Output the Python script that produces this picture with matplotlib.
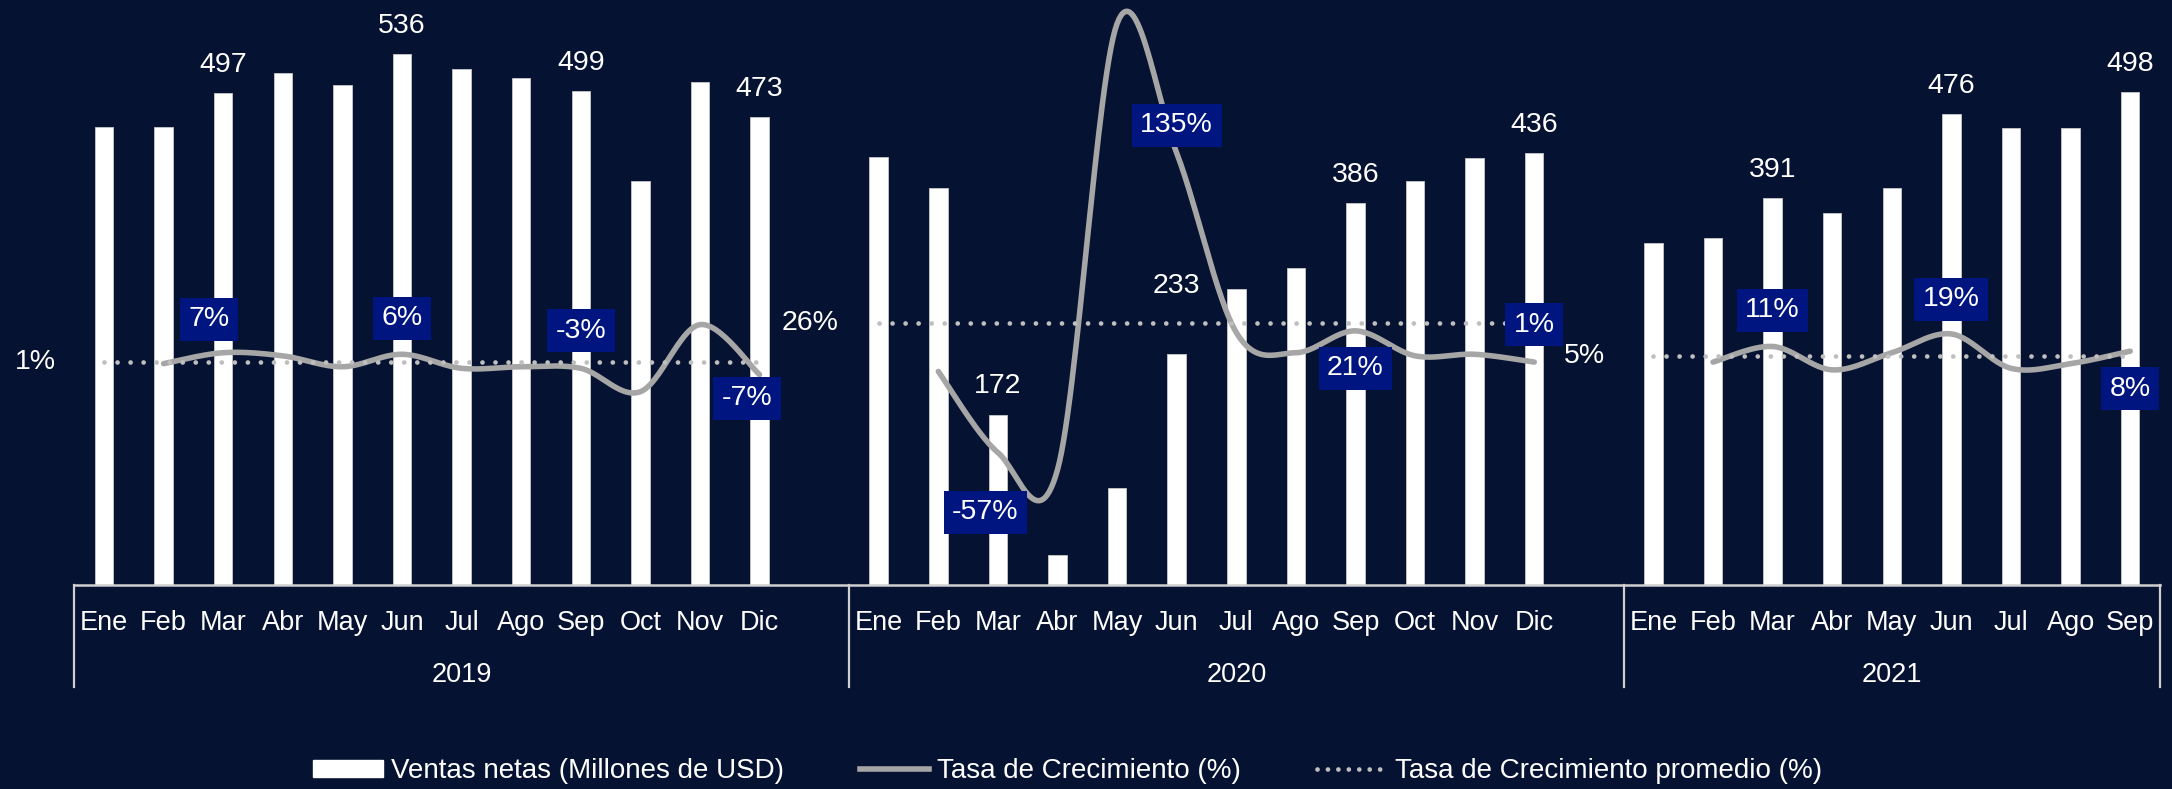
import numpy as np
import matplotlib
matplotlib.use("Agg")
from matplotlib import pyplot as plt
from matplotlib.lines import Line2D
from matplotlib.patches import Patch

plt.rcParams['font.family'] = ['Liberation Sans', 'DejaVu Sans']

BG = '#061231'
BOX = '#001580'
GRAY = '#a6a6a6'
DOT = '#bfbfbf'
AXIS = '#d0d0d0'

years = ['2019', '2020', '2021']
months = ['Ene', 'Feb', 'Mar', 'Abr', 'May', 'Jun', 'Jul', 'Ago', 'Sep', 'Oct', 'Nov', 'Dic']

# ventas netas (millones de USD)
ventas_2019 = [463, 463, 497, 517, 505, 536, 521, 512, 499, 408, 508, 473]
ventas_2020 = [432, 401, 172, 30, 98, 233, 299, 320, 386, 408, 431, 436]
ventas_2021 = [346, 351, 391, 376, 401, 476, 462, 462, 498]

# tasa de crecimiento mensual (%), desde Feb
crec_2019 = [0, 7, 5, -2, 6, -3, -2, -3, -18, 25, -7]
crec_2020 = [-5, -57, -68, 218, 135, 20, 7, 21, 5, 6, 1]
crec_2021 = [1, 11, -4, 7, 19, -3, 0, 8]

promedio = [1, 26, 5]

# meses con etiqueta de valor
bar_labels = [[2, 5, 8, 11], [2, 5, 8, 11], [2, 5, 8]]
growth_labels = [[2, 5, 8, 11], [2, 5, 8, 11], [2, 5, 8]]

ventas = [ventas_2019, ventas_2020, ventas_2021]
crec = [crec_2019, crec_2020, crec_2021]

# label placement: (dx, dy) in points relative to the line point
growth_pos = [[(-10, 24), (0, 26), (0, 27), (-9, -17)],
              [(-9, -43), (0, 20), (0, -27), (0, 27)],
              [(0, 26), (0, 25), (0, -27)]]
bar_extra = [[0, 0, 0, 0], [0, 29, 0, 0], [0, 0, 0]]

# slot positions: one empty slot after 2019 and 2020
starts = [0, 13, 26]
group_edges = [-0.5, 12.5, 25.5, 34.5]


def smooth(x, y, n=30):
    # catmull-rom style smoothing like the spreadsheet line
    x = np.asarray(x, float)
    y = np.asarray(y, float)
    xs, ys = [], []
    for i in range(len(x) - 1):
        p0 = np.array([x[i - 1] if i > 0 else x[i], y[i - 1] if i > 0 else y[i]])
        p1 = np.array([x[i], y[i]])
        p2 = np.array([x[i + 1], y[i + 1]])
        p3 = np.array([x[i + 2], y[i + 2]]) if i + 2 < len(x) else p2
        c1 = p1 + (p2 - p0) / 6
        c2 = p2 - (p3 - p1) / 6
        t = np.linspace(0, 1, n)[:, None]
        pts = (1 - t) ** 3 * p1 + 3 * (1 - t) ** 2 * t * c1 + 3 * (1 - t) * t ** 2 * c2 + t ** 3 * p2
        xs.extend(pts[:, 0])
        ys.extend(pts[:, 1])
    return xs, ys


fig = plt.figure(figsize=(21.72, 7.89), dpi=100, facecolor=BG)
ax = fig.add_axes([74.2 / 2172, 1 - 585 / 789, (2160 - 74.2) / 2172, 585 / 789])
ax.set_facecolor('none')
ax2 = ax.twinx()
ax.set_zorder(1)
ax2.set_zorder(2)

for k in range(3):
    xs = np.arange(len(ventas[k])) + starts[k]
    ax.bar(xs, ventas[k], width=0.31, color='white', edgecolor='#c8c8c8', linewidth=0.6)
    for j, m in enumerate(bar_labels[k]):
        ax.annotate(str(ventas[k][m]), (xs[m], ventas[k][m]), xytext=(0, 11 + bar_extra[k][j]),
                    textcoords='offset points', ha='center', va='bottom',
                    color='white', fontsize=20.5)

    gx = np.arange(1, len(ventas[k])) + starts[k]
    sx, sy = smooth(gx, crec[k])
    ax2.plot(sx, sy, color=GRAY, lw=4, solid_capstyle='round')

    ax2.plot(xs, [promedio[k]] * len(xs), color=DOT, lw=3.4,
             linestyle=(0, (0.01, 2.75)), dash_capstyle='round')
    ax2.text(starts[k] - 1.15, promedio[k], f'{promedio[k]}%', ha='center', va='center',
             color='white', fontsize=20.5, clip_on=False)

    for j, m in enumerate(growth_labels[k]):
        v = crec[k][m - 1]
        dx, dy = growth_pos[k][j]
        ax2.annotate(f'{v}%', (gx[m - 1], v), xytext=(dx, dy), textcoords='offset points',
                     ha='center', va='center', color='white', fontsize=20.5,
                     bbox=dict(boxstyle='square,pad=0.3', fc=BOX, ec='none'))

    for m in range(len(ventas[k])):
        ax.text(starts[k] + m, -0.0769, months[m], transform=ax.get_xaxis_transform(),
                ha='center', va='baseline', color='white', fontsize=19.5)
    mid = (group_edges[k] + group_edges[k + 1]) / 2
    ax.text(mid, -0.165, years[k], transform=ax.get_xaxis_transform(),
            ha='center', va='baseline', color='white', fontsize=19.5)

for e in group_edges:
    ax.plot([e, e], [0, -0.175], transform=ax.get_xaxis_transform(), color=AXIS,
            lw=1.6, clip_on=False)

ax.set_xlim(-0.5, 34.5)
ax.set_ylim(0, 591)
ax2.set_ylim(-141.9, 233.1)
for a in (ax, ax2):
    a.set_xticks([])
    a.set_yticks([])
    for s in a.spines.values():
        s.set_visible(False)
ax.spines['bottom'].set_visible(True)
ax.spines['bottom'].set_color(AXIS)
ax.spines['bottom'].set_linewidth(1.8)

handles = [Patch(facecolor='white', edgecolor='white'),
           Line2D([], [], color=GRAY, lw=4),
           Line2D([], [], color=DOT, lw=3.4, linestyle=(0, (0.01, 2.2)), dash_capstyle='round')]
names = ['Ventas netas (Millones de USD)', 'Tasa de Crecimiento (%)', 'Tasa de Crecimiento promedio (%)']
leg = fig.legend(handles, names, loc='center', bbox_to_anchor=(1067.5 / 2172, 1 - 771 / 789),
                 ncol=3, frameon=False, fontsize=20, handlelength=2.5, handleheight=0.55,
                 handletextpad=0.28, columnspacing=2.75, borderaxespad=0, borderpad=0)
for t in leg.get_texts():
    t.set_color('white')

fig.savefig('out.png', dpi=100, facecolor=BG)
